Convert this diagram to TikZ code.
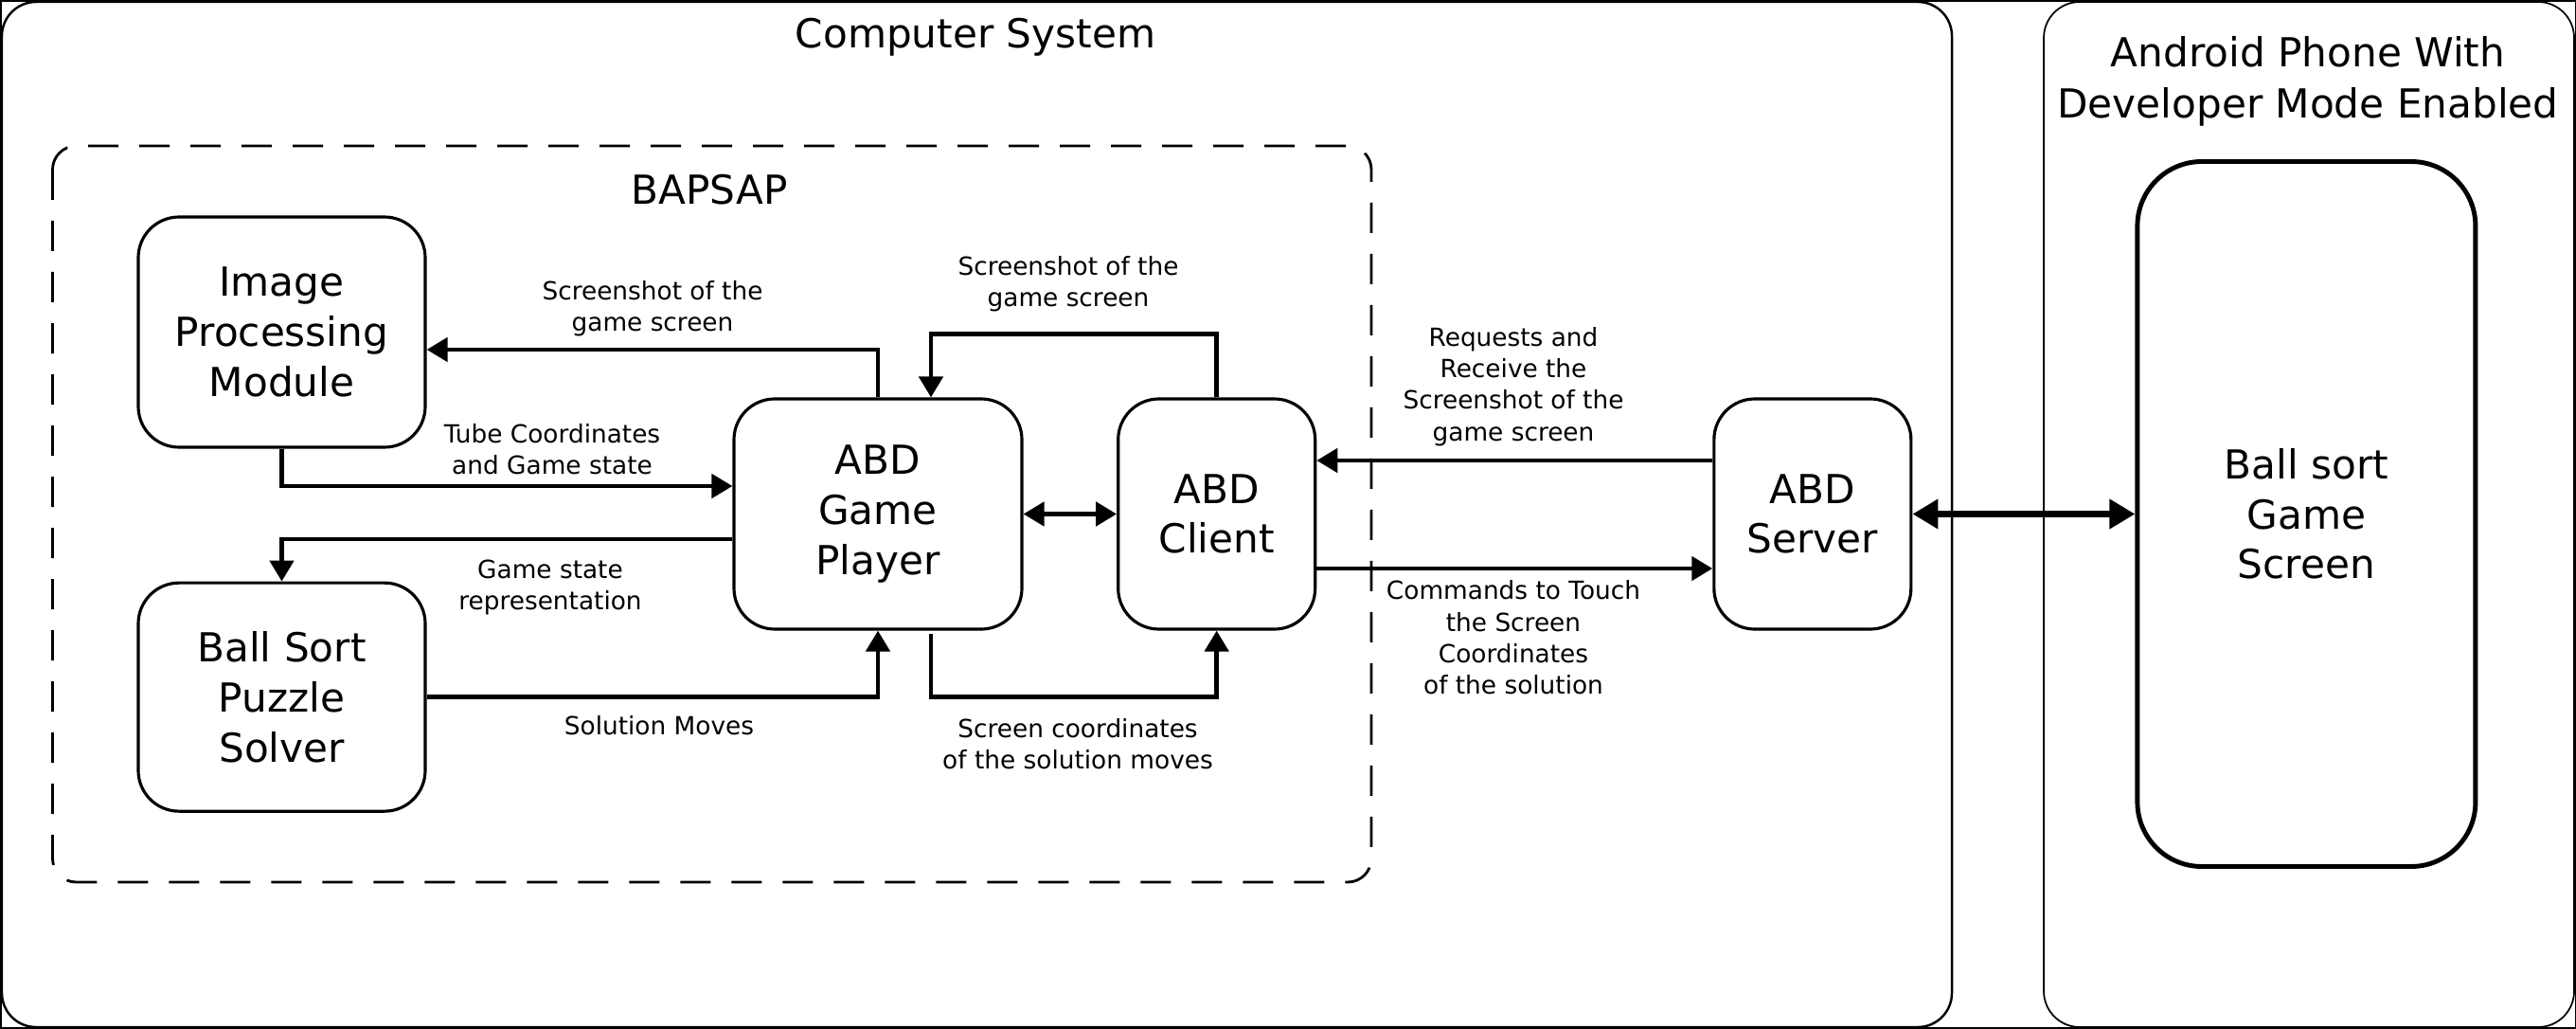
\documentclass[tikz,border=0pt]{standalone}
\usepackage{fontspec}
\setmainfont{DejaVu Sans}
\usetikzlibrary{positioning}
\usetikzlibrary{arrows.meta}

\begin{document}
\begin{tikzpicture}[
  box/.style={draw, line width=0.9pt, rounded corners=0.43cm, align=center,
    font=\fontsize{12}{15}\selectfont},
  lbl/.style={align=center, font=\fontsize{7.5}{9.5}\selectfont},
  title/.style={align=center, font=\fontsize{12}{15.4}\selectfont},
  flow/.style={line width=1.35pt, -{Triangle[length=0.22cm,width=0.25cm]}},
  dflow/.style={line width=1.35pt,
    {Triangle[length=0.22cm,width=0.25cm]}-{Triangle[length=0.22cm,width=0.25cm]}},
  bigflow/.style={line width=2pt,
    {Triangle[length=0.27cm,width=0.3cm]}-{Triangle[length=0.27cm,width=0.3cm]}}
]
  \useasboundingbox (0,0) rectangle (27.2,-10.86);
  \draw[line width=0.3pt] (0.01,-0.01) rectangle (27.19,-10.85);
  \draw[line width=0.7pt, rounded corners=0.36cm] (0.02,-0.02) rectangle (20.61,-10.84);
  \draw[line width=0.5pt, rounded corners=0.38cm] (21.58,-0.02) rectangle (27.18,-10.84);
  \draw[line width=0.8pt, dash pattern=on 0.32cm off 0.22cm, rounded corners=0.25cm]
    (0.555,-1.54) rectangle (14.48,-9.31);

  \node[title] (cstitle) at (10.30,-0.395) {Computer System};
  \node[title] (phonetitle) at (24.37,-0.855) {Android Phone With\\Developer Mode Enabled};
  \node[title] (bapsap) at (7.49,-2.00) {BAPSAP};

  \node[box, minimum width=3.03cm, minimum height=2.43cm] (ipm) at (2.975,-3.505) {Image\\Processing\\Module};
  \node[box, minimum width=3.03cm, minimum height=2.41cm, below=1.40cm of ipm] (bsps) {Ball Sort\\Puzzle\\Solver};
  \node[box, minimum width=3.04cm, minimum height=2.43cm] (gp) at (9.27,-5.425) {ABD\\Game\\Player};
  \node[box, minimum width=2.08cm, minimum height=2.43cm, right=0.985cm of gp] (abdc) {ABD\\Client};
  \node[box, minimum width=2.08cm, minimum height=2.43cm, right=4.18cm of abdc] (abds) {ABD\\Server};
  \node[box, line width=1.4pt, rounded corners=0.68cm, minimum width=3.57cm, minimum height=7.44cm,
    right=2.35cm of abds] (screen) {Ball sort\\Game\\Screen};

  \node[lbl] (shotipm) at (6.89,-3.26) {Screenshot of the\\game screen};
  \node[lbl] (shotgp) at (11.28,-3.00) {Screenshot of the\\game screen};
  \node[lbl] (tube) at (5.83,-4.74) {Tube Coordinates\\and Game state};
  \node[lbl] (state) at (5.81,-6.20) {Game state\\representation};
  \node[lbl] (moves) at (6.96,-7.66) {Solution Moves};
  \node[lbl] (coords) at (11.38,-7.85) {Screen coordinates\\of the solution moves};
  \node[lbl] (request) at (15.98,-4.08) {Requests and\\Receive the\\Screenshot of the\\game screen};
  \node[lbl] (touch) at (15.98,-6.73) {Commands to Touch\\the Screen\\Coordinates\\of the solution};

  \draw[flow] (gp.north) |- ([yshift=-0.185cm]ipm.east);
  \draw[flow] (abdc.north) -- ++(0,0.67) -| ([xshift=0.56cm]gp.north);
  \draw[flow] (ipm.south) |- ([yshift=0.295cm]gp.west);
  \draw[flow] ([yshift=-0.265cm]gp.west) -| (bsps.north);
  \draw[flow] (bsps.east) -| (gp.south);
  \draw[flow] ([xshift=0.56cm,yshift=-0.03cm]gp.south) |- ++(1,-0.67) -| (abdc.south);
  \draw[dflow] (gp) -- (abdc);
  \draw[flow] ([yshift=0.565cm]abds.west) -- ([yshift=0.565cm]abdc.east);
  \draw[flow] ([yshift=-0.575cm]abdc.east) -- ([yshift=-0.575cm]abds.west);
  \draw[bigflow] (abds) -- (screen);
\end{tikzpicture}
\end{document}
